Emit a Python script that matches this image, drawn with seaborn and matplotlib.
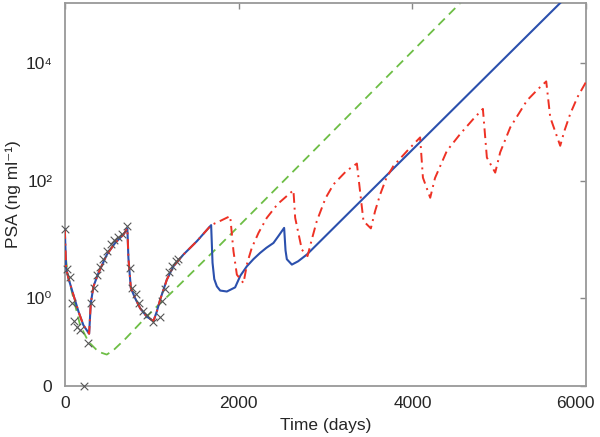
import matplotlib
matplotlib.use("Agg")

import numpy as np
import matplotlib.pyplot as plt
import matplotlib.transforms as mtransforms
import seaborn as sns

# ---------------------------------------------------------------------------
# Data (days, PSA in ng/ml)
# ---------------------------------------------------------------------------
obs_day = [0, 23, 61, 84, 107, 142, 176, 222, 262, 303, 331, 366, 406, 441,
           481, 527, 567, 613, 659, 711, 746, 775, 815, 855, 895, 941, 1016,
           1091, 1120, 1154, 1200, 1235, 1275, 1304]
obs_psa = [15.0, 3.1, 2.3, 0.79, 0.39, 0.29, 0.26, 0.0, 0.14, 0.79, 1.5,
           2.47, 3.37, 4.6, 6.3, 8.3, 9.7, 10.9, 12.3, 16.8, 3.2, 1.5, 1.18,
           0.79, 0.57, 0.49, 0.37, 0.46, 0.86, 1.39, 2.77, 3.5, 4.3, 4.6]

# model fit (solid blue)
blue_day = [0, 15, 41, 99, 157, 214, 280, 299, 330, 387, 483, 579, 675, 720,
            732, 760, 809, 867, 943, 1020, 1059, 1097, 1174, 1250, 1365, 1519,
            1684, 1700, 1720, 1750, 1788, 1865, 1960, 2020, 2095, 2170, 2248,
            2320, 2401, 2460, 2524, 2540, 2555, 2613, 2685, 2785, 4000, 6000]
blue_psa = [15, 3.25, 2.19, 1.12, 0.57, 0.32, 0.22, 0.80, 1.57, 2.67, 5.5,
            8.7, 12.1, 15.4, 4.83, 1.47, 0.98, 0.65, 0.46, 0.38, 0.57, 0.92,
            2.05, 3.48, 5.52, 9.3, 17.5, 4.0, 2.1, 1.57, 1.33, 1.28, 1.51,
            2.4, 3.48, 4.6, 5.9, 7.2, 8.7, 11.5, 15.7, 6.5, 4.6, 3.72, 4.24,
            5.52, 333, 2.8e5]
SHARED = 27   # red follows blue up to the day-1684 peak

# alternative schedule (red dash-dot), after it leaves the blue curve
red_tail_day = [1800, 1903, 1941, 1980, 2056, 2100, 2152, 2230, 2325, 2450,
                2631, 2651, 2728, 2793, 2850, 2900, 3000, 3092, 3240, 3361,
                3437, 3522, 3570, 3629, 3700, 3782, 3950, 4089, 4121, 4205,
                4260, 4397, 4550, 4700, 4811, 4857, 4953, 5010, 5126, 5318,
                5450, 5540, 5586, 5701, 5750, 5816, 5900, 6008]
red_tail_psa = [21, 24.9, 6.3, 2.5, 1.79, 4.0, 7.2, 13, 23.3, 40, 68.4,
                23.3, 6.7, 5.2, 11, 20.5, 50, 86, 145, 194, 20.5, 15.4, 30,
                58, 110, 177, 330, 538, 112, 51, 110, 319, 615, 1100, 1640,
                245, 136, 300, 796, 2270, 3600, 4790, 1180, 388, 700, 1346,
                2600, 4980]

# untreated projection (green dashed)
green_day = [0, 3, 30, 61, 176, 272, 387, 483, 560, 700, 867, 1050, 1250,
             1788, 2861, 3500, 4550, 4800]
green_psa = [15, 6.3, 2.85, 1.68, 0.32, 0.152, 0.092, 0.079, 0.10, 0.176,
             0.347, 0.675, 1.32, 8.1, 316, 2820, 1.02e5, 2.4e5]

OFFSET = 0.033   # axis is log10(PSA + offset) so that 0 sits at the bottom


def fwd(v):
    with np.errstate(invalid="ignore", divide="ignore"):
        return np.log10(np.asarray(v, dtype=float) + OFFSET)


def inv(v):
    return 10.0 ** np.asarray(v, dtype=float) - OFFSET


sns.set_style("white")
plt.rcParams["font.family"] = ["Liberation Sans", "DejaVu Sans"]

fig = plt.figure(figsize=(6.0, 4.37), dpi=100)
ax = fig.add_axes([0.108, 0.117, 0.869, 0.876])
ax.set_yscale("function", functions=(fwd, inv))

red_day = blue_day[:SHARED] + red_tail_day
red_psa = blue_psa[:SHARED] + red_tail_psa

sns.lineplot(x=green_day, y=green_psa, ax=ax, color="#6dbe45", lw=1.3,
             linestyle=(0, (5, 3.2)), sort=False, estimator=None, zorder=2)
sns.lineplot(x=blue_day, y=blue_psa, ax=ax, color="#2b50ad", lw=1.5,
             sort=False, estimator=None, zorder=3)
sns.lineplot(x=red_day, y=red_psa, ax=ax, color="#ee3124", lw=1.4,
             linestyle=(0, (5, 2.5, 1, 2.5)), sort=False, estimator=None,
             zorder=4)
sns.scatterplot(x=obs_day, y=obs_psa, ax=ax, marker="x", color="#555555",
                s=30, linewidth=0.8, zorder=5, clip_on=False)

ax.set_xlim(0, 6000)
ax.set_ylim(0, 1.02e5)
ax.set_xticks([0, 2000, 4000, 6000])
ax.set_yticks([0, 1, 100, 1e4])
ax.set_yticklabels(["0", "10\u2070", "10\u00b2", "10\u2074"])
ax.minorticks_off()

ax.tick_params(direction="in", length=4, width=1, color="#888888",
               top=True, right=True, labelsize=12.5, pad=7)
ax.tick_params(axis="y", pad=9)
for sp in ax.spines.values():
    sp.set_color("#999999")
    sp.set_linewidth(1.3)

# the last x label is nudged left so it stays inside the figure
last = ax.get_xticklabels()[-1]
last.set_transform(last.get_transform() +
                   mtransforms.ScaledTranslation(-8 / 72, 0, fig.dpi_scale_trans))

ax.set_xlabel("Time (days)", fontsize=12.5, labelpad=5)
ax.set_ylabel("PSA (ng ml\u207b\u00b9)", fontsize=12.5, labelpad=3)

fig.savefig("out.png", dpi=100)
